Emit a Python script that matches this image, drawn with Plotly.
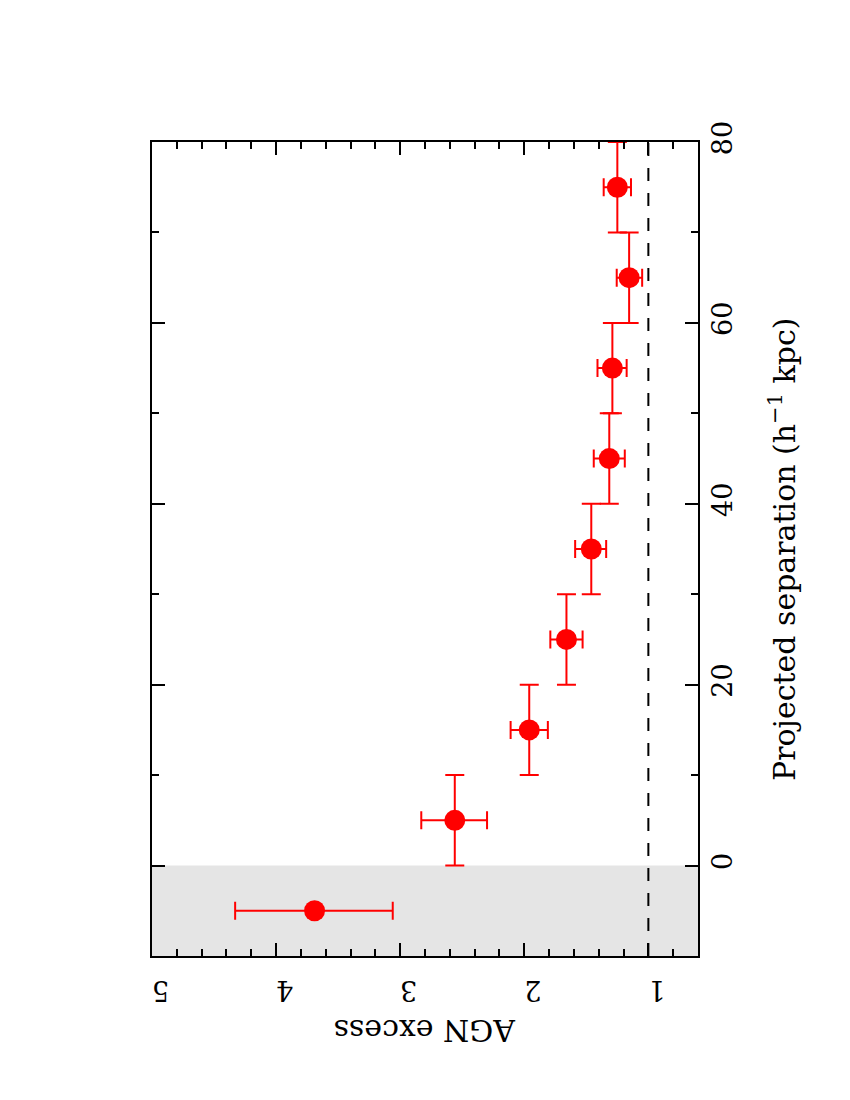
import plotly.graph_objects as go

# Data read from the (rotated) reference chart
separation = [-5, 5, 15, 25, 35, 45, 55, 65, 75]          # h^-1 kpc
separation_err = [0, 5, 5, 5, 5, 5, 5, 5, 5]
agn_excess = [3.69, 2.56, 1.96, 1.66, 1.46, 1.315, 1.29, 1.155, 1.25]
agn_upper = [4.33, 2.83, 2.11, 1.79, 1.59, 1.44, 1.41, 1.255, 1.36]
agn_lower = [3.06, 2.30, 1.81, 1.53, 1.34, 1.19, 1.175, 1.05, 1.14]

sep_ticks = [0, 20, 40, 60, 80]
agn_ticks = [1, 2, 3, 4, 5]
baseline = 1.0

RED = "#ff0000"
FONT = "DejaVu Serif"

err_plus = [u - v for u, v in zip(agn_upper, agn_excess)]
err_minus = [v - l for v, l in zip(agn_excess, agn_lower)]

fig = go.Figure()

# shaded region for negative separation
fig.add_shape(type="rect", xref="paper", yref="y", x0=0, x1=1, y0=-10, y1=0,
              fillcolor="#e5e5e5", line=dict(width=0), layer="below")
# dashed reference line at AGN excess = 1
fig.add_shape(type="line", xref="x", yref="paper", x0=baseline, x1=baseline, y0=0, y1=1,
              line=dict(color="black", width=2, dash="13px,12px"), layer="below")

# point without separation error bar
fig.add_trace(go.Scatter(
    x=agn_excess[:1], y=separation[:1], mode="markers",
    marker=dict(color=RED, size=21),
    error_x=dict(type="data", symmetric=False, array=err_plus[:1], arrayminus=err_minus[:1],
                 color=RED, thickness=2, width=9),
    showlegend=False))

# remaining points
fig.add_trace(go.Scatter(
    x=agn_excess[1:], y=separation[1:], mode="markers",
    marker=dict(color=RED, size=21),
    error_x=dict(type="data", symmetric=False, array=err_plus[1:], arrayminus=err_minus[1:],
                 color=RED, thickness=2, width=9),
    error_y=dict(type="data", array=separation_err[1:], color=RED, thickness=2, width=9.5),
    showlegend=False))

fig.update_layout(
    width=850, height=1100,
    margin=dict(l=144, r=160, t=134, b=152),
    paper_bgcolor="white", plot_bgcolor="white",
    font=dict(family=FONT, size=27, color="black"),
    xaxis=dict(
        range=[5, 0.6], tickvals=agn_ticks, ticktext=[str(t) for t in agn_ticks],
        tickangle=180, side="bottom",
        ticks="inside", ticklen=13, tickwidth=2, tickcolor="black",
        minor=dict(dtick=0.2, ticks="inside", ticklen=7, tickwidth=2, tickcolor="black"),
        showline=True, linewidth=2, linecolor="black", mirror="ticks",
        showgrid=False, zeroline=False, ticklabelstandoff=18,
        tickfont=dict(family=FONT, size=27)),
    yaxis=dict(
        range=[-10, 80], tickvals=sep_ticks, ticktext=[str(t) for t in sep_ticks],
        tickangle=-90, side="right",
        ticks="inside", ticklen=13, tickwidth=2, tickcolor="black",
        minor=dict(dtick=10, ticks="inside", ticklen=7, tickwidth=2, tickcolor="black"),
        showline=True, linewidth=2, linecolor="black", mirror="ticks",
        showgrid=False, zeroline=False, ticklabelstandoff=0,
        tickfont=dict(family=FONT, size=27)),
)

fig.add_annotation(text="AGN excess", xref="paper", yref="paper",
                   x=0.5, y=-0.0909, xanchor="center", yanchor="middle",
                   textangle=180, showarrow=False,
                   font=dict(family=FONT, size=30))
fig.add_annotation(text="Projected separation (h<sup>\u22121</sup> kpc)", xref="paper", yref="paper",
                   x=1.1538, y=0.5, xanchor="center", yanchor="middle",
                   textangle=-90, showarrow=False,
                   font=dict(family=FONT, size=30))

fig.write_html("out.html")
